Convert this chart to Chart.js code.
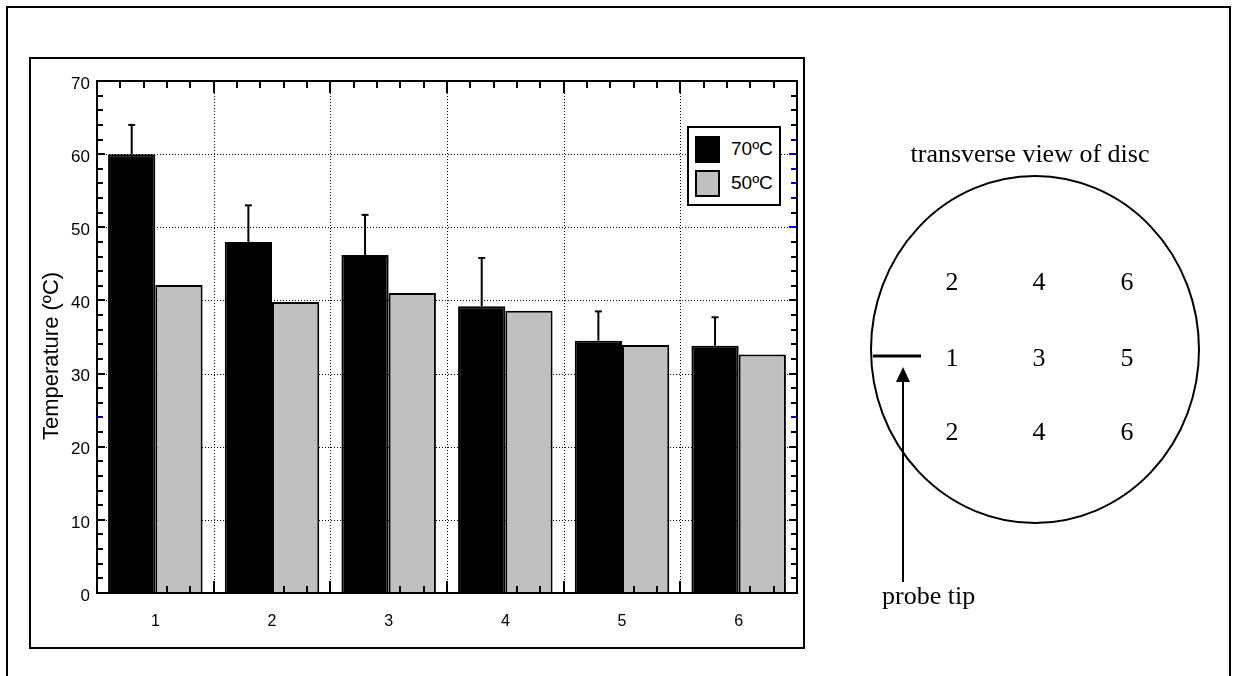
<!DOCTYPE html>
<html>
<head>
<meta charset="utf-8">
<script src="https://cdn.jsdelivr.net/npm/chart.js@4/dist/chart.umd.min.js"></script>
<style>
  body { margin: 0; background: #fff; width: 1233px; height: 676px; overflow: hidden; position: relative; font-family: Arial, "Liberation Sans", sans-serif; }
  #outer { position: absolute; left: 6px; top: 6px; width: 1221px; height: 720px; border: 2px solid #000; }
  #chartBox { position: absolute; left: 29px; top: 57px; width: 772px; height: 588px; border: 2px solid #000; }
  #chartCanvas { position: absolute; left: 0; top: 0; }
  #legend { position: absolute; left: 656px; top: 67px; width: 90px; height: 76px; border: 2px solid #000; background: #fff; }
  .legend-row { position: absolute; left: 6px; height: 28px; display: flex; align-items: center; font-size: 19px; }
  .legend-swatch { width: 25px; height: 27px; box-sizing: border-box; margin-right: 11px; }
  #disc { position: absolute; left: 0; top: 0; }
</style>
</head>
<body>
<div id="outer"></div>
<div id="chartBox">
  <canvas id="chartCanvas" width="772" height="588"></canvas>
  <div id="legend"></div>
</div>

<svg id="disc" width="1233" height="676" font-family="'Times New Roman', 'Liberation Serif', serif" font-size="26">
  <text x="1030" y="162" text-anchor="middle">transverse view of disc</text>
  <ellipse cx="1035" cy="349.5" rx="164" ry="173.5" fill="none" stroke="#000" stroke-width="2"/>
  <g text-anchor="middle">
    <text x="952" y="290">2</text><text x="1039" y="290">4</text><text x="1127" y="290">6</text>
    <text x="952" y="366">1</text><text x="1039" y="366">3</text><text x="1127" y="366">5</text>
    <text x="952" y="440">2</text><text x="1039" y="440">4</text><text x="1127" y="440">6</text>
  </g>
  <line x1="873" y1="356" x2="921" y2="356" stroke="#000" stroke-width="3"/>
  <line x1="903" y1="378" x2="903" y2="582" stroke="#000" stroke-width="2"/>
  <polygon points="903,367 896,382 910,382" fill="#000"/>
  <text x="882" y="604">probe tip</text>
</svg>

<script>
// data
const categories = ['1', '2', '3', '4', '5', '6'];
const temp70 = [60, 48, 46.2, 39.2, 34.5, 33.8];
const err70 = [4, 5, 5.5, 6.6, 4, 3.9];
const temp50 = [42.1, 39.8, 41, 38.6, 33.9, 32.6];
const yTicks = [0, 10, 20, 30, 40, 50, 60, 70];
const blueRightTicks = [62, 60, 58, 56, 54, 50];
const blueBothTicks = [24];

Chart.defaults.font.family = 'Arial, "Liberation Sans", sans-serif';
Chart.defaults.color = '#000';

function line(ctx, x1, y1, x2, y2) {
  ctx.beginPath();
  ctx.moveTo(x1, y1);
  ctx.lineTo(x2, y2);
  ctx.stroke();
}

// dotted grid behind the bars, frame + inward ticks + error bars on top
const framePlugin = {
  id: 'frame',
  beforeDatasetsDraw(chart) {
    const { ctx, chartArea: a, scales: { x, y } } = chart;
    ctx.save();
    ctx.strokeStyle = '#000';
    ctx.lineWidth = 1;
    ctx.setLineDash([1, 2]);
    yTicks.slice(1, -1).forEach(v => {
      const py = Math.round(y.getPixelForValue(v)) + 0.5;
      line(ctx, a.left, py, a.right, py);
    });
    for (let i = 0; i < categories.length - 1; i++) {
      const px = Math.round((x.getPixelForValue(i) + x.getPixelForValue(i + 1)) / 2) + 0.5;
      line(ctx, px, a.top, px, a.bottom);
    }
    ctx.restore();
  },
  afterDatasetsDraw(chart) {
    const { ctx, chartArea: a, scales: { x, y } } = chart;
    ctx.save();
    ctx.strokeStyle = '#000';
    ctx.lineWidth = 2;

    // error bars (upper only) on the 70ºC series
    const meta = chart.getDatasetMeta(0);
    meta.data.forEach((bar, i) => {
      const top = y.getPixelForValue(temp70[i] + err70[i]);
      line(ctx, bar.x, bar.y, bar.x, top);
      line(ctx, bar.x - 3.5, top, bar.x + 3.5, top);
    });

    ctx.strokeRect(a.left, a.top, a.right - a.left, a.bottom - a.top);

    // x ticks: 5 per category, major at boundaries
    const cw = x.getPixelForValue(1) - x.getPixelForValue(0);
    for (let i = 0; i < categories.length; i++) {
      const left = x.getPixelForValue(i) - cw / 2;
      for (let k = 0; k < 5; k++) {
        if (i === 0 && k === 0) continue;
        const px = Math.round(left + k * cw / 5);
        const len = k === 0 ? 12 : 7;
        line(ctx, px, a.bottom, px, a.bottom - len);
        line(ctx, px, a.top, px, a.top + len);
      }
    }

    // y ticks every 2 units, both sides
    for (let v = 2; v < 70; v += 2) {
      const py = Math.round(y.getPixelForValue(v));
      const len = v % 10 === 0 ? 8 : 6;
      ctx.strokeStyle = blueBothTicks.includes(v) ? '#0000cc' : '#000';
      line(ctx, a.left, py, a.left + len, py);
      ctx.strokeStyle = (blueBothTicks.includes(v) || blueRightTicks.includes(v)) ? '#0000cc' : '#000';
      line(ctx, a.right, py, a.right - len, py);
    }

    // axis title
    ctx.fillStyle = '#000';
    ctx.font = '22px Arial, "Liberation Sans", sans-serif';
    ctx.textAlign = 'center';
    ctx.textBaseline = 'middle';
    ctx.translate(21, 297);
    ctx.rotate(-Math.PI / 2);
    ctx.fillText('Temperature (ºC)', 0, 0);
    ctx.restore();
  }
};

const chart = new Chart(document.getElementById('chartCanvas'), {
  type: 'bar',
  data: {
    labels: categories,
    datasets: [
      { label: '70ºC', data: temp70, backgroundColor: '#000', borderColor: '#000', borderWidth: 2 },
      { label: '50ºC', data: temp50, backgroundColor: '#c0c0c0', borderColor: '#000', borderWidth: 2 }
    ]
  },
  options: {
    responsive: false,
    animation: false,
    categoryPercentage: 0.81,
    barPercentage: 1,
    layout: { padding: { top: 22, right: 6, left: 0, bottom: 0 } },
    plugins: { legend: { display: false }, tooltip: { enabled: false } },
    scales: {
      x: {
        grid: { display: false, drawTicks: false },
        border: { display: false },
        ticks: { padding: 19, font: { size: 16 } },
        afterFit: s => { s.height = 54; }
      },
      y: {
        min: 0,
        max: 70,
        grid: { display: false, drawTicks: false },
        border: { display: false },
        ticks: { stepSize: 10, padding: 7, labelOffset: 3, font: { size: 17 } },
        afterFit: s => { s.width = 66; }
      }
    }
  },
  plugins: [framePlugin]
});

// legend box inside the plot, built from the datasets
const legend = document.getElementById('legend');
chart.data.datasets.forEach((ds, i) => {
  const row = document.createElement('div');
  row.className = 'legend-row';
  row.style.top = (i === 0 ? 7 : 41) + 'px';
  const sw = document.createElement('div');
  sw.className = 'legend-swatch';
  sw.style.background = ds.backgroundColor;
  sw.style.border = '2px solid #000';
  const label = document.createElement('span');
  label.textContent = ds.label;
  row.appendChild(sw);
  row.appendChild(label);
  legend.appendChild(row);
});
</script>
</body>
</html>
